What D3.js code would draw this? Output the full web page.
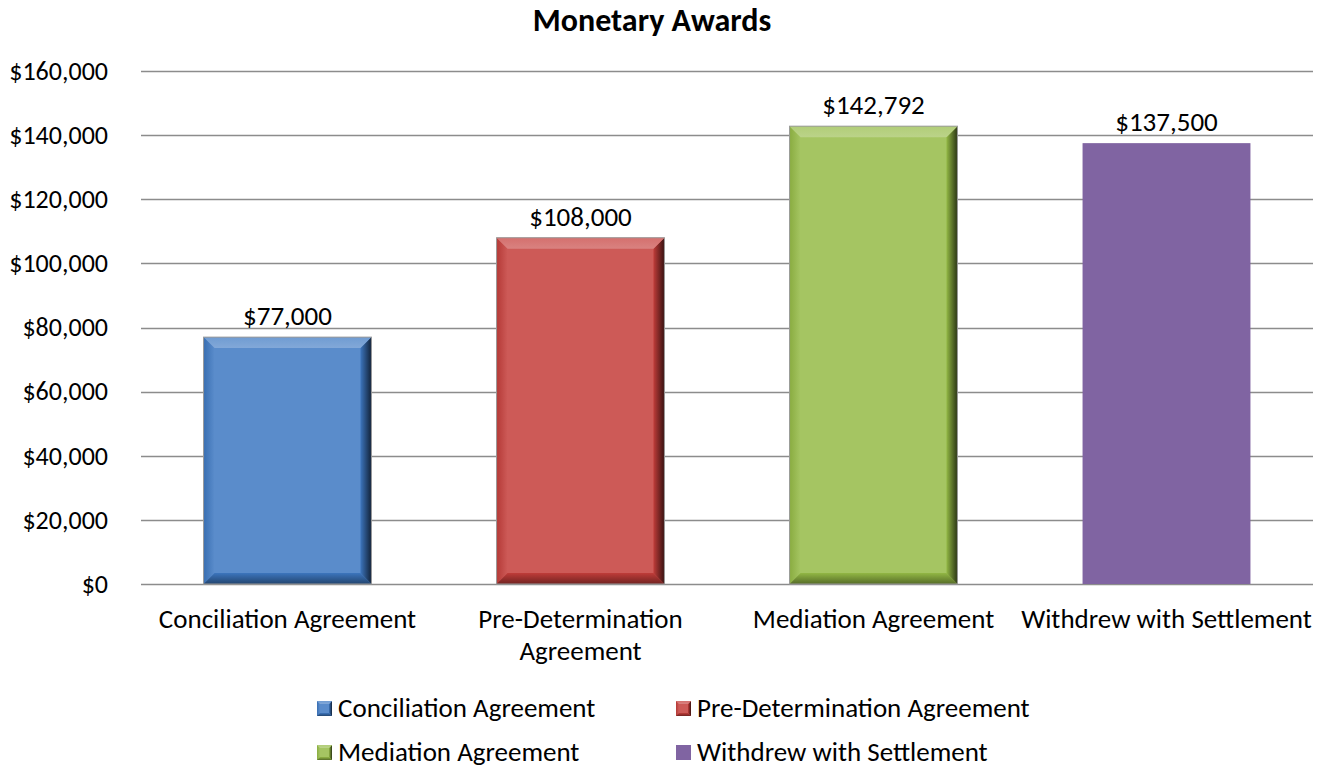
<!DOCTYPE html>
<html>
<head>
<meta charset="utf-8">
<script src="https://cdn.jsdelivr.net/npm/d3@7"></script>
<style>
  body { margin: 0; background: #fff; }
  text { font-family: Carlito, Lato, "Open Sans", sans-serif; fill: #000; }
</style>
</head>
<body>
<svg id="chart" width="1322" height="772"></svg>
<script>
// chart data
var categories = ['Conciliation Agreement', 'Pre-Determination Agreement', 'Mediation Agreement', 'Withdrew with Settlement'];
var awards = [77000, 108000, 142792, 137500];
var yTicks = [0, 20000, 40000, 60000, 80000, 100000, 120000, 140000, 160000];
var barColors = ['#5a8ccb', '#cd5a57', '#a5c562', '#8064a2'];
var beveled = [true, true, true, false];

var svg = d3.select('#chart');
var plotLeft = 141, plotRight = 1313, plotTop = 71, plotBottom = 584;
var fontSize = 27;

var x = d3.scaleBand()
    .domain(categories)
    .range([plotLeft, plotRight])
    .paddingInner(0.427)
    .paddingOuter(0.2135);

var y = d3.scaleLinear()
    .domain([0, 160000])
    .range([plotBottom, plotTop]);

var money = function (v) { return '$' + d3.format(',')(v); };

// title
svg.append('text')
    .attr('x', 652)
    .attr('y', 31)
    .attr('text-anchor', 'middle')
    .attr('font-size', 32)
    .attr('font-weight', 'bold')
    .text('Monetary Awards');

// gridlines
svg.append('g')
    .selectAll('line')
    .data(yTicks)
    .enter()
    .append('line')
        .attr('x1', plotLeft)
        .attr('x2', plotRight)
        .attr('y1', function (d) { return Math.round(y(d)) + 0.5; })
        .attr('y2', function (d) { return Math.round(y(d)) + 0.5; })
        .attr('stroke', '#8c8c8c')
        .attr('stroke-width', 1.5);

// y axis labels
var yAxis = d3.axisLeft(y).tickValues(yTicks).tickFormat(money).tickSize(0).tickPadding(0);
var gy = svg.append('g')
    .attr('transform', 'translate(108,0)')
    .call(yAxis);
gy.select('.domain').remove();
gy.selectAll('text')
    .attr('font-size', 26)
    .attr('font-family', 'Carlito, Lato, "Open Sans", sans-serif')
    .attr('fill', '#000');

// gradients for bevel sides
var defs = svg.append('defs');
function shade(c, k) {
    var h = d3.hsl(c);
    h.l = Math.max(0, Math.min(1, h.l * k));
    return h.formatHex();
}
barColors.forEach(function (c, i) {
    var gr = defs.append('linearGradient').attr('id', 'rightG' + i)
        .attr('x1', 0).attr('x2', 1).attr('y1', 0).attr('y2', 0);
    gr.append('stop').attr('offset', 0).attr('stop-color', shade(c, 0.85));
    gr.append('stop').attr('offset', 1).attr('stop-color', shade(c, 0.25));
    var gb = defs.append('linearGradient').attr('id', 'botG' + i)
        .attr('x1', 0).attr('x2', 0).attr('y1', 0).attr('y2', 1);
    gb.append('stop').attr('offset', 0).attr('stop-color', shade(c, 0.85));
    gb.append('stop').attr('offset', 1).attr('stop-color', shade(c, 0.5));
    var gt = defs.append('linearGradient').attr('id', 'topG' + i)
        .attr('x1', 0).attr('x2', 0).attr('y1', 0).attr('y2', 1);
    gt.append('stop').attr('offset', 0).attr('stop-color', shade(c, 1.1));
    gt.append('stop').attr('offset', 1).attr('stop-color', shade(c, 1.18));
    var gl = defs.append('linearGradient').attr('id', 'leftG' + i)
        .attr('x1', 0).attr('x2', 1).attr('y1', 0).attr('y2', 0);
    gl.append('stop').attr('offset', 0).attr('stop-color', shade(c, 0.8));
    gl.append('stop').attr('offset', 1).attr('stop-color', shade(c, 1.0));
});

// draws a beveled box
function bevelBox(g, x0, y0, w, h, i, b, edge) {
    var x1 = x0 + w, y1 = y0 + h;
    g.append('rect').attr('x', x0).attr('y', y0).attr('width', w).attr('height', h)
        .attr('fill', barColors[i]);
    if (!beveled[i]) return;
    var pts = function (a) { return a.map(function (p) { return p.join(','); }).join(' '); };
    g.append('polygon').attr('points', pts([[x0, y0], [x0 + b, y0 + b], [x0 + b, y1 - b], [x0, y1]]))
        .attr('fill', 'url(#leftG' + i + ')');
    g.append('polygon').attr('points', pts([[x0, y1], [x0 + b, y1 - b], [x1 - b, y1 - b], [x1, y1]]))
        .attr('fill', 'url(#botG' + i + ')');
    g.append('polygon').attr('points', pts([[x1, y0], [x1 - b, y0 + b], [x1 - b, y1 - b], [x1, y1]]))
        .attr('fill', 'url(#rightG' + i + ')');
    g.append('polygon').attr('points', pts([[x0, y0], [x1, y0], [x1 - b, y0 + b], [x0 + b, y0 + b]]))
        .attr('fill', 'url(#topG' + i + ')');
    if (edge) {
        g.append('rect').attr('x', x0).attr('y', y0).attr('width', w).attr('height', h)
            .attr('fill', 'none').attr('stroke', '#9a9a9a').attr('stroke-width', 1);
    }
}

// bars
var bars = svg.append('g');
awards.forEach(function (v, i) {
    var g = bars.append('g');
    var bx = x(categories[i]);
    bevelBox(g, bx, y(v), x.bandwidth(), y(0) - y(v), i, 11, true);
});

// value labels
svg.append('g')
    .selectAll('text')
    .data(awards)
    .enter()
    .append('text')
        .attr('x', function (d, i) { return x(categories[i]) + x.bandwidth() / 2; })
        .attr('y', function (d) { return y(d) - 12; })
        .attr('text-anchor', 'middle')
        .attr('font-size', fontSize)
        .text(function (d) { return money(d); });

// category labels (wrapped)
var xLabelLines = [['Conciliation Agreement'], ['Pre-Determination', 'Agreement'], ['Mediation Agreement'], ['Withdrew with Settlement']];
categories.forEach(function (c, i) {
    var t = svg.append('text')
        .attr('text-anchor', 'middle')
        .attr('font-size', fontSize);
    xLabelLines[i].forEach(function (line, j) {
        t.append('tspan')
            .attr('x', x(c) + x.bandwidth() / 2)
            .attr('y', 628 + j * 32)
            .text(line);
    });
});

// legend
var legendPos = [[317, 708], [676, 708], [317, 752], [676, 752]];
var legend = svg.append('g');
categories.forEach(function (c, i) {
    var g = legend.append('g');
    var p = legendPos[i];
    bevelBox(g, p[0], p[1] - 7, 15, 15, i, 3, false);
    legend.append('text')
        .attr('x', p[0] + 21)
        .attr('y', p[1] + 9)
        .attr('font-size', fontSize)
        .text(c);
});
</script>
</body>
</html>
